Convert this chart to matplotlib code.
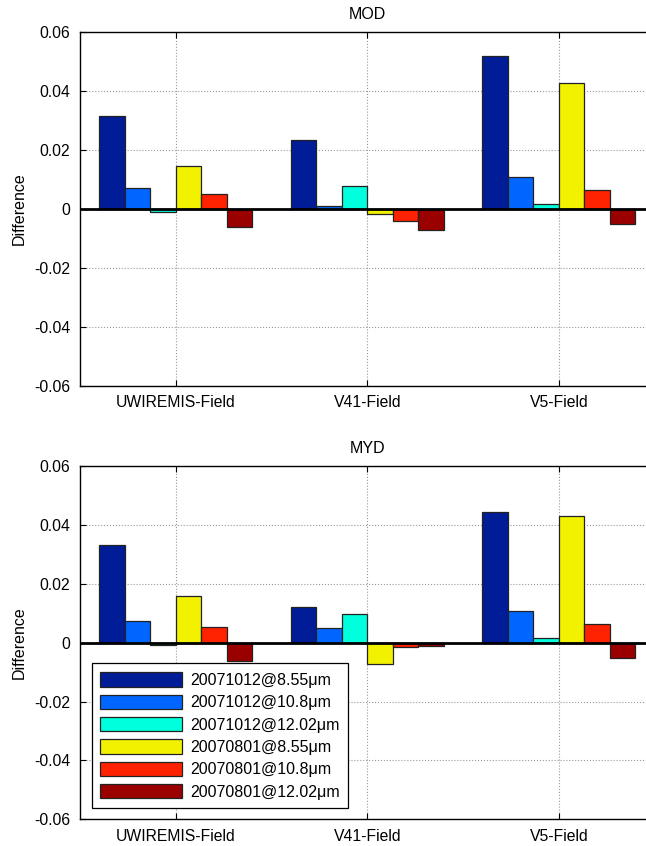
import numpy as np
import matplotlib.pyplot as plt

plt.rcParams['font.family'] = ['Liberation Sans', 'DejaVu Sans']

sites = ['UWIREMIS-Field', 'V41-Field', 'V5-Field']
series = ['20071012@8.55\u03bcm', '20071012@10.8\u03bcm', '20071012@12.02\u03bcm',
          '20070801@8.55\u03bcm', '20070801@10.8\u03bcm', '20070801@12.02\u03bcm']
colors = ['#001c96', '#0066ff', '#00ffdd', '#f2f200', '#ff2200', '#9a0000']

# rows = sites, columns = series
mod_vals = np.array([
    [0.0314, 0.0069, -0.0010, 0.0146, 0.0051, -0.0062],
    [0.0234, 0.0009, 0.0078, -0.0017, -0.0040, -0.0071],
    [0.0518, 0.0109, 0.0017, 0.0426, 0.0063, -0.0051],
])
myd_vals = np.array([
    [0.0331, 0.0072, -0.0009, 0.0159, 0.0054, -0.0061],
    [0.0121, 0.0049, 0.0098, -0.0071, -0.0015, -0.0010],
    [0.0442, 0.0108, 0.0017, 0.0429, 0.0064, -0.0052],
])

yticks = [-0.06, -0.04, -0.02, 0, 0.02, 0.04, 0.06]
yticklabels = ['-0.06', '-0.04', '-0.02', '0', '0.02', '0.04', '0.06']

fig = plt.figure(figsize=(6.46, 8.46), dpi=100)
ax_top = fig.add_axes([0.1238, 0.5441, 0.8895, 0.4181])
ax_bot = fig.add_axes([0.1238, 0.0316, 0.8895, 0.4176])

x = np.arange(1, len(sites) + 1)
n = len(series)
w = 0.8 / n


def draw(ax, vals, title):
    for i in range(n):
        ax.bar(x - 0.4 + w * (i + 0.5), vals[:, i], width=w, color=colors[i],
               edgecolor='#222222', linewidth=0.9, label=series[i], zorder=3)
    ax.axhline(0, color='black', linewidth=2, zorder=4)
    ax.set_xlim(0.5, 3.5)
    ax.set_ylim(-0.06, 0.06)
    ax.set_xticks(x)
    ax.set_xticklabels(sites, fontsize=11.3)
    ax.set_yticks(yticks)
    ax.set_yticklabels(yticklabels, fontsize=11.3)
    ax.tick_params(direction='in', top=True, right=False, length=4, pad=7)
    ax.grid(True, linestyle=':', color='#999999', linewidth=0.8, zorder=0)
    ax.set_ylabel('Difference', fontsize=11.5, labelpad=5)
    ax.set_title(title, fontsize=11.5, pad=9)
    ax.spines['right'].set_visible(False)
    for s in ax.spines.values():
        s.set_linewidth(1.0)


draw(ax_top, mod_vals, 'MOD')
draw(ax_bot, myd_vals, 'MYD')

leg = ax_bot.legend(loc='lower left', bbox_to_anchor=(0.0204, 0.031),
                    borderaxespad=0, fontsize=11.5, handlelength=5.1,
                    handleheight=1.0, labelspacing=0.42, handletextpad=0.5,
                    fancybox=False, edgecolor='black', framealpha=1,
                    borderpad=0.55)
leg.get_frame().set_linewidth(0.9)
leg.set_zorder(10)

fig.savefig('out.png', dpi=100)
